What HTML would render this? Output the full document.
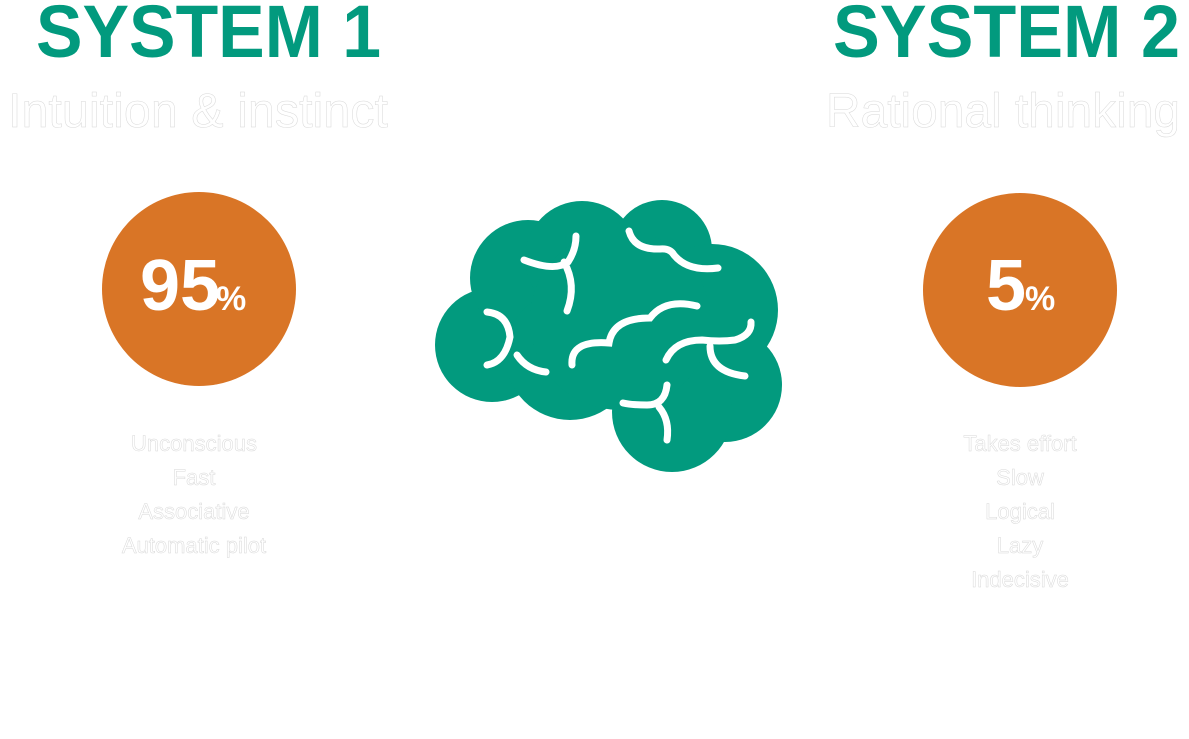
<!DOCTYPE html>
<html><head><meta charset="utf-8"><style>
html,body{margin:0;padding:0;background:#fff;}
svg{display:block;}
.t{font-family:"Liberation Sans",sans-serif;fill:#fff;stroke:#d8d8d8;stroke-width:0.5;}
.h{font-family:"Liberation Sans",sans-serif;font-weight:bold;fill:#029a7e;}
.p{font-family:"Liberation Sans",sans-serif;font-weight:bold;fill:#fff;}
</style></head><body>
<svg width="1189" height="739" viewBox="0 0 1189 739" xmlns="http://www.w3.org/2000/svg">
<text class="h" x="36" y="57" font-size="74" textLength="345" lengthAdjust="spacingAndGlyphs">SYSTEM 1</text>
<text class="h" x="833" y="57" font-size="74" textLength="347" lengthAdjust="spacingAndGlyphs">SYSTEM 2</text>
<text class="t" x="8" y="127" font-size="48" textLength="380" lengthAdjust="spacingAndGlyphs">Intuition &amp; instinct</text>
<text class="t" x="826" y="127" font-size="48" textLength="354" lengthAdjust="spacingAndGlyphs">Rational thinking</text>

<circle cx="199" cy="289" r="97" fill="#d97526"/>
<circle cx="1020" cy="290" r="97" fill="#d97526"/>
<text class="p" x="140" y="310" font-size="72">95</text>
<text class="p" x="216" y="310" font-size="34">%</text>
<text class="p" x="986" y="310" font-size="72">5</text>
<text class="p" x="1025" y="310" font-size="34">%</text>

<g class="t" font-size="22" text-anchor="middle">
<text x="194" y="451">Unconscious</text>
<text x="194" y="485">Fast</text>
<text x="194" y="519">Associative</text>
<text x="194" y="553">Automatic pilot</text>
<text x="1020" y="451">Takes effort</text>
<text x="1020" y="485">Slow</text>
<text x="1020" y="519">Logical</text>
<text x="1020" y="553">Lazy</text>
<text x="1020" y="587">Indecisive</text>
</g>

<g fill="#029a7e">
<circle cx="492" cy="345" r="57"/>
<circle cx="528" cy="278" r="58"/>
<circle cx="582" cy="258" r="57"/>
<circle cx="662" cy="250" r="50"/>
<circle cx="712" cy="310" r="66"/>
<circle cx="725" cy="385" r="57"/>
<circle cx="672" cy="412" r="60"/>
<circle cx="570" cy="355" r="65"/>
<circle cx="620" cy="320" r="90"/>
</g>
<g fill="none" stroke="#fff" stroke-width="7" stroke-linecap="round">
<path d="M524,260 Q555,272 568,262 Q576,250 576,236"/>
<path d="M564,262 Q577,285 567,311"/>
<path d="M629,231 Q634,250 660,249 Q670,248 674,255 Q688,272 718,268"/>
<path d="M487,312 Q508,314 510,337 Q505,362 487,365"/>
<path d="M517,355 Q527,370 546,372"/>
<path d="M572,365 Q570,340 609,343 Q613,318 650,318 Q665,298 697,306"/>
<path d="M666,360 Q675,340 702,340 Q720,342 735,340 Q752,335 751,322"/>
<path d="M710,346 Q710,372 745,376"/>
<path d="M667,385 Q665,405 647,405 Q632,405 623,403"/>
<path d="M659,407 Q670,420 667,440"/>
</g>
</svg>
</body></html>
